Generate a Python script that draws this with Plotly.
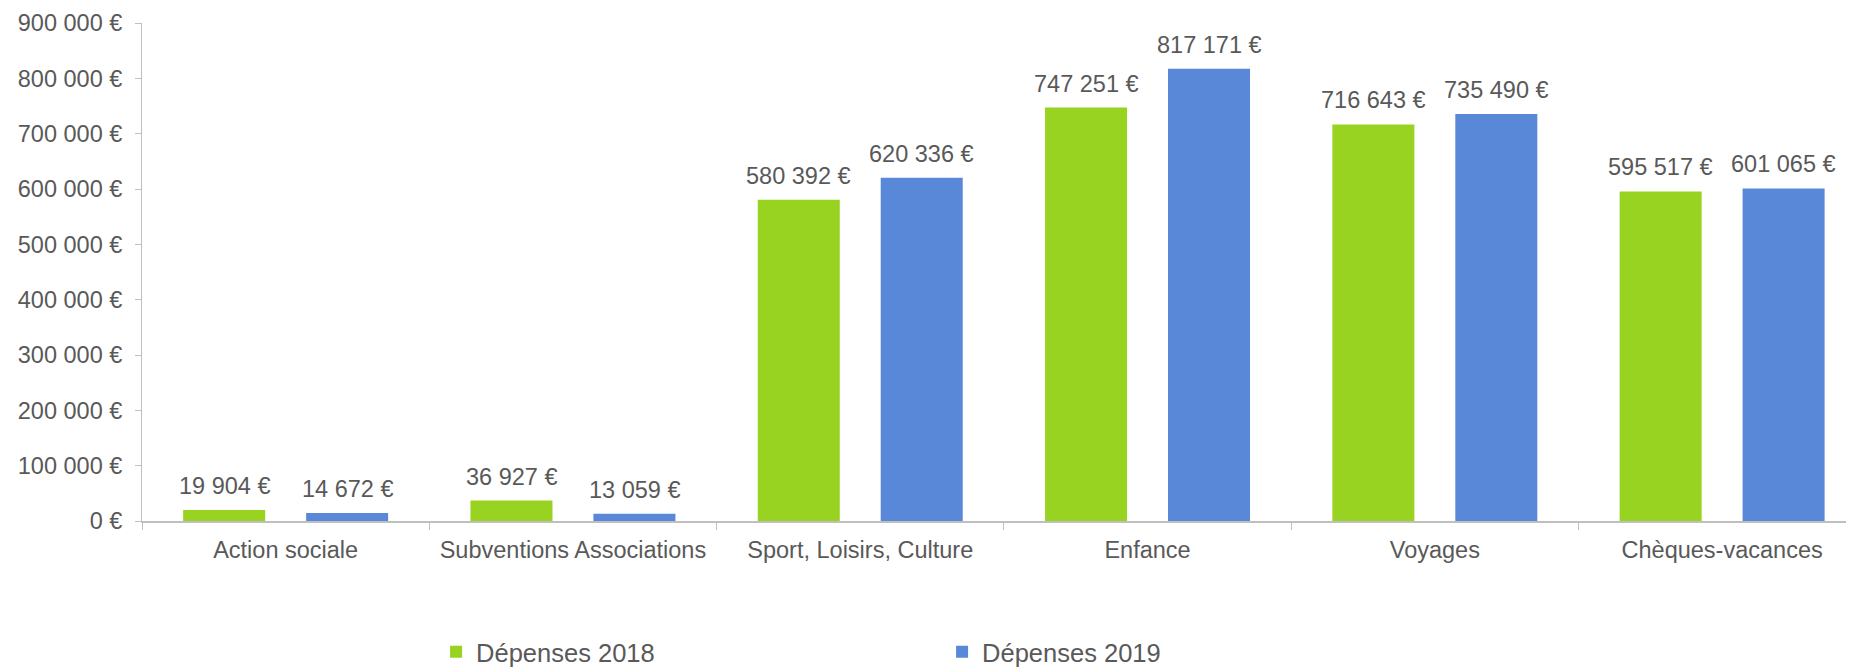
import plotly.graph_objects as go

categories = ["Action sociale", "Subventions Associations", "Sport, Loisirs, Culture",
              "Enfance", "Voyages", "Chèques-vacances"]
depenses_2018 = [19904, 36927, 580392, 747251, 716643, 595517]
depenses_2019 = [14672, 13059, 620336, 817171, 735490, 601065]
series_names = ["Dépenses 2018", "Dépenses 2019"]
y_ticks = [0, 100000, 200000, 300000, 400000, 500000, 600000, 700000, 800000, 900000]

GREEN = "#97D320"
BLUE = "#5A88D8"
TEXT = "#595959"
AXIS = "#BFBFBF"
FONT = "Liberation Sans, Arial, sans-serif"
FS = 23.5
# the page body has an 8px default margin; the figure is sized to fit the 1854x667 window
W, H = 1846, 659
ML, MR, MT, MB = 134, 0, 15, 145.5
BARGAP = 0.144
BARGROUPGAP = 0.333
X_RANGE = [-0.5, 5.459]

fig = go.Figure()
fig.add_trace(go.Bar(name=series_names[0], x=categories, y=depenses_2018,
                     marker=dict(color=GREEN, line=dict(width=0))))
fig.add_trace(go.Bar(name=series_names[1], x=categories, y=depenses_2019,
                     marker=dict(color=BLUE, line=dict(width=0))))

def fmt(v):
    return f"{v:,}".replace(",", " ") + " €"

off = (1 - BARGAP) / 4
annotations = []
for i, (a, b) in enumerate(zip(depenses_2018, depenses_2019)):
    for dx, v in ((-off, a), (off, b)):
        annotations.append(dict(x=i + dx, y=v, xref="x", yref="y", text=fmt(v),
                                showarrow=False, yanchor="bottom", yshift=9,
                                font=dict(family=FONT, size=FS, color=TEXT)))

fig.update_layout(
    width=W, height=H,
    margin=dict(l=ML, r=MR, t=MT, b=MB, pad=0, autoexpand=False),
    paper_bgcolor="white", plot_bgcolor="white",
    barmode="group", bargap=BARGAP, bargroupgap=BARGROUPGAP,
    separators=", ",
    font=dict(family=FONT, size=FS, color=TEXT),
    showlegend=True,
    legend=dict(orientation="h", xref="container", yref="container",
                x=0.2319, y=0.058, xanchor="left", yanchor="top",
                entrywidth=461, entrywidthmode="pixels", itemwidth=30,
                font=dict(family=FONT, size=25.5, color=TEXT),
                bgcolor="rgba(0,0,0,0)"),
    annotations=annotations,
)
fig.update_xaxes(range=X_RANGE, showline=True, linecolor=AXIS, linewidth=1.5,
                 ticks="outside", tickson="boundaries", ticklen=7, tickcolor=AXIS,
                 tickwidth=1, showgrid=False, zeroline=False, automargin=False,
                 ticklabelstandoff=7,
                 tickfont=dict(family=FONT, size=FS, color=TEXT))
fig.update_yaxes(range=[0, 900000], tickvals=y_ticks, ticktext=[fmt(v) for v in y_ticks],
                 showline=True, linecolor=AXIS, linewidth=1, ticks="outside",
                 ticklen=6, tickcolor=AXIS, showgrid=False, zeroline=False,
                 ticklabelstandoff=8, automargin=False,
                 tickfont=dict(family=FONT, size=FS, color=TEXT))

fig.write_html("out.html")
